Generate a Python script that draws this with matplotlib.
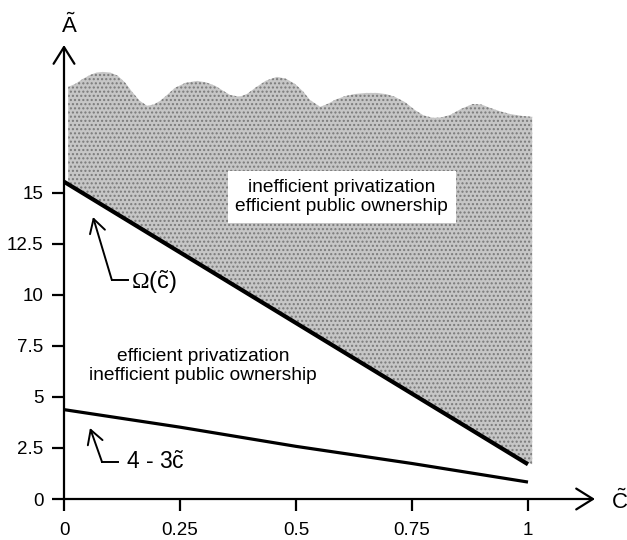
import matplotlib
matplotlib.use('Agg')
import matplotlib.pyplot as plt
import numpy as np

plt.rcParams['font.family'] = ['Liberation Sans', 'DejaVu Sans']
plt.rcParams['mathtext.fontset'] = 'custom'
plt.rcParams['mathtext.rm'] = 'Liberation Sans'
plt.rcParams['mathtext.tt'] = 'Liberation Serif'
plt.rcParams['mathtext.it'] = 'Liberation Sans:italic'
plt.rcParams['hatch.color'] = '#7a7a7a'
plt.rcParams['hatch.linewidth'] = 1.0

# data
x_ticks = [0, 0.25, 0.5, 0.75, 1]
x_labels = ['0', '0.25', '0.5', '0.75', '1']
y_ticks = [0, 2.5, 5, 7.5, 10, 12.5, 15]
y_labels = ['0', '2.5', '5', '7.5', '10', '12.5', '15']

omega_x = [0, 1]
omega_y = [15.55, 1.7]

low_x = [0, 0.25, 0.5, 0.75, 1]
low_y = [4.38, 3.52, 2.58, 1.74, 0.83]

# wavy upper edge of the shaded area
top_x = [0.009, 0.024, 0.040, 0.056, 0.070, 0.084, 0.100, 0.116, 0.132, 0.147,
         0.163, 0.179, 0.193, 0.207, 0.222, 0.239, 0.262, 0.287, 0.306, 0.326,
         0.342, 0.358, 0.379, 0.395, 0.412, 0.435, 0.459, 0.478, 0.498, 0.515,
         0.530, 0.552, 0.568, 0.584, 0.605, 0.627, 0.651, 0.675, 0.695, 0.713,
         0.735, 0.756, 0.775, 0.795, 0.813, 0.832, 0.856, 0.881, 0.900, 0.918,
         0.940, 0.961, 0.985, 1.009]
top_y = [20.20, 20.34, 20.58, 20.78, 20.90, 20.93, 20.90, 20.74, 20.40, 19.95,
         19.52, 19.27, 19.33, 19.51, 19.80, 20.15, 20.40, 20.49, 20.42, 20.25,
         20.02, 19.80, 19.71, 19.86, 20.15, 20.50, 20.69, 20.60, 20.34, 19.98,
         19.56, 19.22, 19.36, 19.56, 19.74, 19.85, 19.90, 19.90, 19.84, 19.71,
         19.45, 19.07, 18.80, 18.68, 18.70, 18.82, 19.12, 19.36, 19.33, 19.17,
         19.00, 18.87, 18.78, 18.73]

fig = plt.figure(figsize=(6.27, 5.40), dpi=100)
ax = fig.add_axes([64 / 627, 41 / 540, 531 / 627, 454 / 540])
ax.set_xlim(0, 1.1444)
ax.set_ylim(0, 22.25)

# shaded region between Omega line and the wavy top
tx = np.array(top_x)
bottom = np.interp(tx, omega_x, omega_y)
ax.fill_between(tx, bottom, top_y, facecolor='#c6c6c6', hatch='....',
                edgecolor='#7a7a7a', linewidth=0)

ax.plot(omega_x, omega_y, color='black', lw=3.0, solid_capstyle='butt')
ax.plot(low_x, low_y, color='black', lw=2.3, solid_capstyle='butt')

# axes drawn as arrows
for s in ax.spines.values():
    s.set_visible(False)
arrow_kw = dict(arrowstyle='->,head_length=0.8,head_width=0.5', lw=1.6,
                color='black', mutation_scale=15, shrinkA=0, shrinkB=0)
ax.annotate('', xy=(1.1444, 0), xytext=(0, 0), arrowprops=arrow_kw,
            annotation_clip=False)
ax.annotate('', xy=(0, 22.25), xytext=(0, 0), arrowprops=arrow_kw,
            annotation_clip=False)

ax.set_xticks(x_ticks)
ax.set_xticklabels(x_labels)
ax.set_yticks(y_ticks)
ax.set_yticklabels(y_labels)
ax.tick_params(axis='x', direction='out', length=8.6, width=1.6, pad=8, labelsize=13.5)
ax.tick_params(axis='y', direction='out', length=8.6, width=1.6, pad=6, labelsize=13.5)

ax.text(0.011, 23.2, r'$\tilde{\mathrm{A}}$', fontsize=16, ha='center', va='center',
        clip_on=False)
ax.text(1.198, -0.15, r'$\tilde{\mathrm{C}}$', fontsize=16, ha='center', va='center',
        clip_on=False)

ax.text(0.599, 14.80, 'inefficient privatization\nefficient public ownership',
        fontsize=13.8, ha='center', va='center', linespacing=1.2,
        bbox=dict(boxstyle='square,pad=0.4', facecolor='white', edgecolor='none'))
ax.text(0.30, 6.52, 'efficient privatization\ninefficient public ownership',
        fontsize=13.8, ha='center', va='center', linespacing=1.2)

# annotation arrows
small_kw = dict(arrowstyle='->,head_length=0.7,head_width=0.4', lw=1.4,
                color='black', mutation_scale=14, shrinkA=0, shrinkB=0)
ax.annotate('', xy=(0.0625, 13.82), xytext=(0.103, 10.74), arrowprops=small_kw)
ax.plot([0.103, 0.138], [10.74, 10.74], color='black', lw=1.4)
ax.text(0.145, 10.62, r'$\mathtt{\Omega}\mathrm{(}\tilde{\mathrm{c}}\mathrm{)}$',
        fontsize=17, ha='left', va='center')

ax.annotate('', xy=(0.056, 3.48), xytext=(0.082, 1.81), arrowprops=small_kw)
ax.plot([0.082, 0.116], [1.81, 1.81], color='black', lw=1.4)
ax.text(0.134, 1.81, r'4 - 3$\tilde{\mathrm{c}}$', fontsize=16.5,
        ha='left', va='center')

fig.savefig('out.png', dpi=100)
